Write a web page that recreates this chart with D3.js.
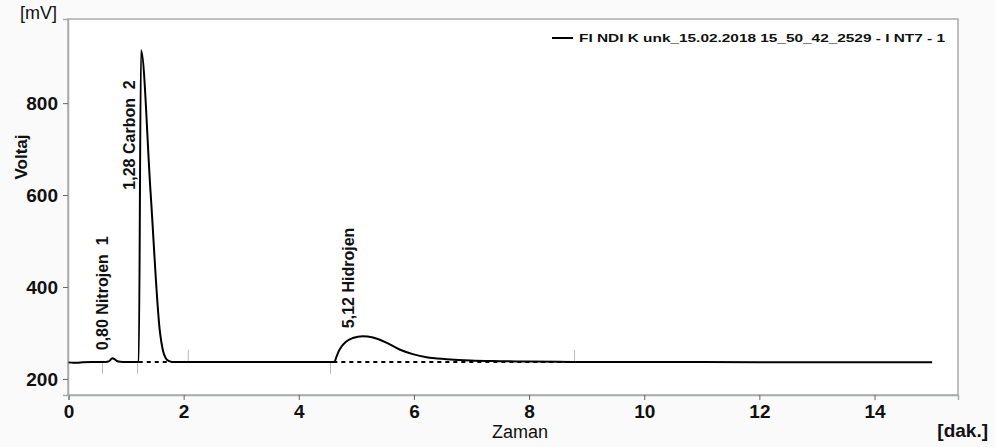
<!DOCTYPE html>
<html>
<head>
<meta charset="utf-8">
<script src="https://cdn.jsdelivr.net/npm/d3@7"></script>
<style>
  body { margin: 0; background: #fafafa; }
  svg { display: block; font-family: "Liberation Sans", Arial, sans-serif; }
</style>
</head>
<body>
<div id="chart"></div>
<script>
// chromatogram trace (minutes, mV)
const times = [0, 0.08, 0.15, 0.25, 0.4, 0.6, 0.68, 0.72, 0.76, 0.80, 0.84, 0.9, 1.0, 1.1, 1.2, 1.22,
  1.26, 1.425, 1.59, 1.64, 1.69, 1.75, 1.80, 2.0, 3.0, 4.0, 4.55, 4.62, 4.66, 4.70, 4.74,
  4.82, 4.94, 5.11, 5.29, 5.52, 5.75, 5.98, 6.22, 6.57, 6.98, 7.49, 8.0, 8.5, 9.0, 10.0, 11.0, 12.0,
  13.0, 14.0, 15.0];
const voltages = [236, 235, 235, 236.5, 237, 237, 237.5, 240, 245, 243, 239, 237.5, 237, 237, 237, 237,
  915, 607, 300, 262, 245, 238.5, 237, 237, 237, 237, 237, 237.5, 250, 262, 270,
  281, 289, 293, 290, 279, 264, 254, 247, 243, 240, 238.6, 237.8, 237.2, 237, 237, 236.8, 236.5,
  236.3, 236, 236];

// peaks
const peakTimes = [0.80, 1.28, 5.12];
const peakApex = [0.76, 1.22, 5.02];
const peakHeights = [245, 915, 293];
const peakNames = ["Nitrojen", "Carbon", "Hidrojen"];
const peakNumbers = ["1", "2", ""];

// integration baselines and markers
const baseStart = [1.22, 4.60];
const baseEnd = [1.80, 8.79];
const baseLevel = 237;
const markerTimes = [0.59, 1.20, 2.08, 4.55, 8.79];
const markerSide = [-1, -1, 1, -1, 1];

const xTicks = [0, 2, 4, 6, 8, 10, 12, 14];
const yTicks = [200, 400, 600, 800];
const seriesName = "FI NDI K unk_15.02.2018 15_50_42_2529 - I NT7 - 1";

const W = 995, H = 447;
const L = 68, R = 958, T = 19, B = 395;

const svg = d3.select("#chart").append("svg")
    .attr("width", W)
    .attr("height", H);

const x = d3.scaleLinear().domain([0, 15.45]).range([L + 0.5, R]);
const y = d3.scaleLinear().domain([165, 983]).range([B, T]);

// plot frame
svg.append("rect")
    .attr("x", L).attr("y", T)
    .attr("width", R - L).attr("height", B - T)
    .attr("fill", "#fff")
    .attr("stroke", "#a8aca8")
    .attr("stroke-width", 1.5);

// axes
const xAxis = svg.append("g")
    .attr("transform", "translate(0," + B + ")")
    .call(d3.axisBottom(x).tickValues(xTicks).tickSize(5).tickPadding(5).tickFormat(d3.format("d")));
const yAxis = svg.append("g")
    .attr("transform", "translate(" + L + ",0)")
    .call(d3.axisLeft(y).tickValues(yTicks).tickSize(5).tickPadding(5).tickFormat(d3.format("d")));

[xAxis, yAxis].forEach(function(g) {
  g.attr("font-size", 19).attr("font-weight", "bold")
   .attr("font-family", "'Liberation Sans', Arial, sans-serif");
  g.select(".domain").attr("stroke", "#a8aca8").attr("stroke-width", 1.5);
  g.selectAll(".tick line").attr("stroke", "#666");
  g.selectAll(".tick text").attr("fill", "#111");
});
yAxis.selectAll(".tick text").attr("dy", "0.36em");

// axis titles
svg.append("text").attr("x", 20).attr("y", 19)
    .style("font-size", "18px").attr("fill", "#111").text("[mV]");
svg.append("text")
    .attr("transform", "translate(27,157) rotate(-90)")
    .attr("text-anchor", "middle")
    .style("font-size", "17px").style("font-weight", "bold").attr("fill", "#111")
    .text("Voltaj");
svg.append("text").attr("x", 520).attr("y", 438)
    .attr("text-anchor", "middle")
    .style("font-size", "18px").attr("fill", "#111").text("Zaman");
svg.append("text").attr("x", 988).attr("y", 437)
    .attr("text-anchor", "end")
    .style("font-size", "19px").style("font-weight", "bold").attr("fill", "#111").text("[dak.]");

// integration markers
svg.selectAll("line.marker")
    .data(markerTimes)
    .enter().append("line")
    .attr("class", "marker")
    .attr("x1", d => x(d)).attr("x2", d => x(d))
    .attr("y1", y(baseLevel))
    .attr("y2", (d, i) => y(baseLevel) - markerSide[i] * 12)
    .attr("stroke", "#bbb")
    .attr("stroke-width", 1);

// dashed baselines
svg.selectAll("line.base")
    .data(baseStart)
    .enter().append("line")
    .attr("class", "base")
    .attr("x1", d => x(d))
    .attr("x2", (d, i) => x(baseEnd[i]))
    .attr("y1", y(baseLevel)).attr("y2", y(baseLevel))
    .attr("stroke", "#000")
    .attr("stroke-width", 2)
    .attr("stroke-dasharray", "4,4");

// trace
const pts = times.map((t, i) => [t, voltages[i]]);
const line = d3.line()
    .x(d => x(d[0]))
    .y(d => y(d[1]))
    .curve(d3.curveMonotoneX);

svg.append("path")
    .datum(pts)
    .attr("fill", "none")
    .attr("stroke", "#000")
    .attr("stroke-width", 2)
    .attr("stroke-linejoin", "round")
    .attr("d", line);

// peak labels
peakTimes.forEach(function(t, i) {
  const label = d3.format(".2f")(t).replace(".", ",") + " " + peakNames[i] +
      (peakNumbers[i] ? "  " + peakNumbers[i] : "");
  const txt = svg.append("text")
      .style("font-size", "16px")
      .style("font-weight", "bold")
      .style("white-space", "pre")
      .attr("fill", "#111")
      .text(label);
  const len = txt.node().getComputedTextLength();
  let ay = y(peakHeights[i]) - 8;
  if (ay - len < T + 10) ay = y(peakHeights[i]) + 30 + len;
  txt.attr("transform", "translate(" + (x(peakApex[i]) - 4) + "," + ay + ") rotate(-90)");
});

// legend
svg.append("line")
    .attr("x1", 552).attr("x2", 573)
    .attr("y1", 38).attr("y2", 38)
    .attr("stroke", "#000").attr("stroke-width", 2);
svg.append("text")
    .attr("x", 579).attr("y", 42)
    .style("font-size", "11.5px")
    .style("font-weight", "bold")
    .style("white-space", "pre")
    .attr("fill", "#111")
    .attr("textLength", 366)
    .attr("lengthAdjust", "spacingAndGlyphs")
    .text(seriesName);
</script>
</body>
</html>
